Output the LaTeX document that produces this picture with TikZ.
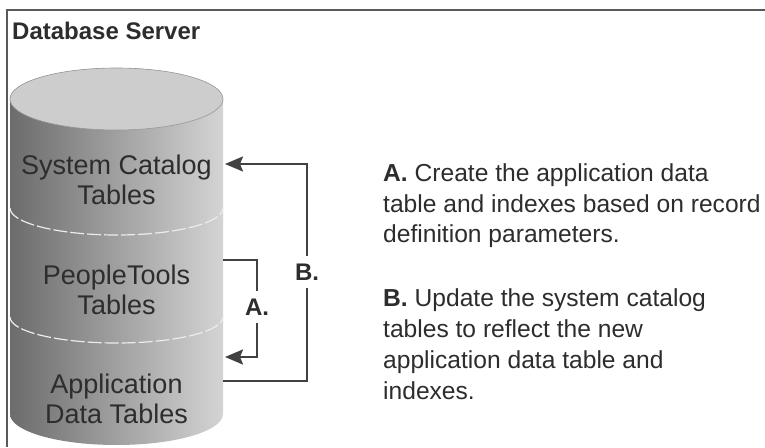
\documentclass[tikz,border=0pt]{standalone}
\usepackage{fontspec}
\setmainfont{Liberation Sans}
\usepackage{xcolor}
\usepackage{tikz}
\usetikzlibrary{arrows.meta,positioning}
\definecolor{framegray}{RGB}{90, 90, 90}
\definecolor{cyldark}{RGB}{108, 108, 108}
\definecolor{cyllight}{RGB}{212, 212, 212}
\definecolor{cyltop}{RGB}{205, 205, 205}
\definecolor{textgray}{RGB}{45, 45, 45}
\definecolor{flowgray}{RGB}{65, 65, 65}

\begin{document}
\begin{tikzpicture}[x=1pt, y=1pt,
    cyltext/.style={font=\fontsize{27}{30}\selectfont, text=textgray, align=center, inner sep=0pt, anchor=base},
    notetext/.style={font=\fontsize{24.6}{30.8}\selectfont, text=textgray, align=left, anchor=base west, inner sep=0pt},
    flow/.style={draw=flowgray, line width=2.3pt, -{Stealth[length=18pt, width=15pt, inset=3pt]}},
    steplabel/.style={font=\fontsize{24}{28}\selectfont\bfseries, text=textgray, fill=white, inner xsep=1pt, inner ysep=8pt},
    divider/.style={draw=white!85!gray, line width=1.2pt, dash pattern=on 14pt off 3pt}]
        \useasboundingbox (0,0) rectangle (765,447);
        \fill[white] (0,0) rectangle (765,447);

        % Frame on top and left
        \draw[framegray, line width=1.5pt] (765,437) -- (7,437) -- (7,0);
        \node[anchor=base west, inner sep=0pt, font=\fontsize{24}{28}\selectfont\bfseries, text=textgray] (title) at (12,407) {Database Server};

        % Cylinder body and lid
        \shade[left color=cyldark, right color=cyllight]
            (10,348) -- (10,33) arc[start angle=180, end angle=360, x radius=106.5, y radius=31]
            -- (223,348) arc[start angle=0, end angle=180, x radius=106.5, y radius=31] -- cycle;
        \draw[fill=cyltop, draw=gray!80, line width=0.6pt] (116.5,348) ellipse[x radius=106.5, y radius=31];

        % Dividers between the table groups
        \draw[divider] (10,239) arc[start angle=180, end angle=360, x radius=106.5, y radius=27];
        \draw[divider] (10,130) arc[start angle=180, end angle=360, x radius=106.5, y radius=26];

        % Table groups (base = last line)
        \node[cyltext] (syscat) at (116.5,242) {System Catalog\\Tables};
        \node[cyltext] (ptools) at (116.5,132) {PeopleTools\\Tables};
        \node[cyltext] (appdata) at (116.5,24) {Application\\Data Tables};

        % Points on the cylinder wall
        \coordinate (catR) at (225,283);
        \coordinate (ptR) at (223,187);
        \coordinate (appin) at (225,90);
        \coordinate (appout) at (223,66);

        % Step A
        \draw[flow] (ptR) -- (257,187) -- (257,90) -- (appin);
        \node[steplabel] (stepA) at (257,140) {A.};

        % Step B
        \draw[flow] (appout) -- (307,66) -- (307,283) -- (catR);
        \node[steplabel] (stepB) at (307,175) {B.};

        % Notes
        \node[notetext] (noteA) at (383,204) {\textbf{A.} Create the application data\\table and indexes based on record\\definition parameters.};
        \node[notetext] (noteB) at (383,48) {\textbf{B.} Update the system catalog\\tables to reflect the new\\application data table and\\indexes.};
    \end{tikzpicture}
\end{document}
